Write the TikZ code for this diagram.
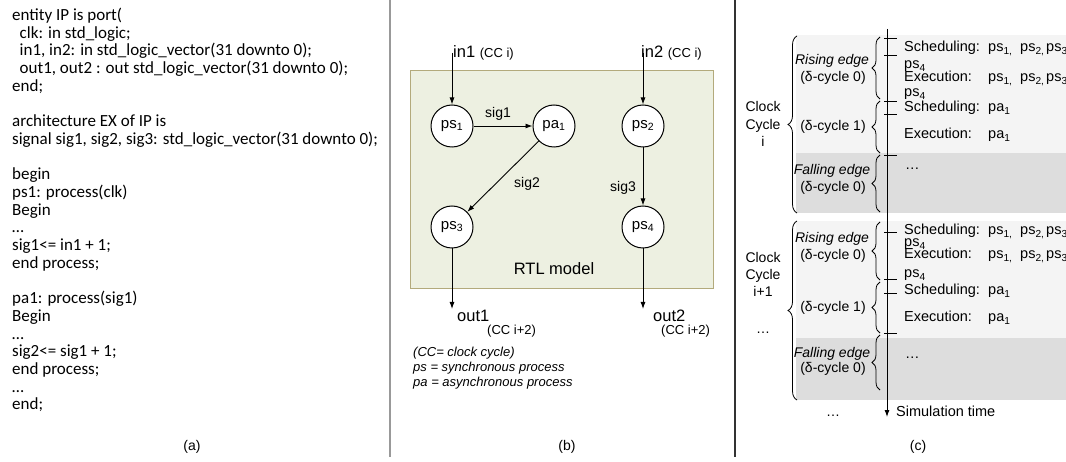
\documentclass[tikz,border=0pt]{standalone}
\usepackage{fontspec}
\setmainfont{Liberation Sans}
\newfontfamily\calfont{Carlito}
\usetikzlibrary{arrows.meta,decorations.pathreplacing}
\definecolor{boxfill}{HTML}{EDF0E1}
\definecolor{boxline}{HTML}{B3AA7C}
\definecolor{bandlight}{HTML}{F4F4F4}
\definecolor{banddark}{HTML}{DDDDDD}
\definecolor{sepgray}{HTML}{999999}
\newcommand{\fsz}[1]{\fontsize{#1}{#1}\selectfont}
\tikzset{
  code/.style={anchor=base west, inner sep=0pt, font=\calfont\fsz{17}},
  proc/.style={draw, circle, minimum size=42pt, inner sep=0pt, fill=white, line width=1pt, font=\fsz{15}},
  arr/.style={-{Latex[length=7pt,width=5pt]}, line width=0.9pt},
  txt/.style={inner sep=0pt, font=\fsz{14}},
  io/.style={anchor=base west, inner sep=0pt, font=\fsz{16.5}},
  cc/.style={anchor=base west, inner sep=0pt, font=\fsz{13}},
  leg/.style={anchor=base west, inner sep=0pt, font=\fsz{13}\itshape},
  ctr/.style={anchor=base, inner sep=0pt, font=\fsz{14}},
  ctri/.style={anchor=base, inner sep=0pt, font=\fsz{14}\itshape},
  rc/.style={anchor=base west, inner sep=0pt, font=\fsz{14.5}},
  bigbrace/.style={decorate, decoration={brace, amplitude=9pt}, line width=0.8pt},
  smallbrace/.style={decorate, decoration={brace, amplitude=8pt}, line width=0.8pt},
  tick/.style={line width=0.9pt},
}
\begin{document}
\begin{tikzpicture}[x=1pt, y=-1pt]
\useasboundingbox (0,0) rectangle (1066,462);

% separators
\draw[sepgray, line width=1.3pt] (390,0) -- (390,457);
\draw[black!80, line width=1.3pt] (735,0) -- (735,457);

% ---------------- panel (a)
\node[code] (c1)  at (12,20.5)   {entity IP is port(};
\node[code] (c2)  at (19.5,38.2) {clk: in std\_logic;};
\node[code] (c3)  at (19.5,55.9) {in1, in2: in std\_logic\_vector(31 downto 0);};
\node[code] (c4)  at (19.5,73.6) {out1, out2 : out std\_logic\_vector(31 downto 0);};
\node[code] (c5)  at (12,91.3)   {end;};
\node[code] (c6)  at (12,126.7)  {architecture EX of IP is};
\node[code] (c7)  at (12,144.4)  {signal sig1, sig2, sig3: std\_logic\_vector(31 downto 0);};
\node[code] (c8)  at (12,179.8)  {begin};
\node[code] (c9)  at (12,197.5)  {ps1: process(clk)};
\node[code] (c10) at (12,215.2)  {Begin};
\node[code] (c11) at (12,232.9)  {…};
\node[code] (c12) at (12,250.6)  {sig1<= in1 + 1;};
\node[code] (c13) at (12,268.3)  {end process;};
\node[code] (c14) at (12,303.7)  {pa1: process(sig1)};
\node[code] (c15) at (12,321.4)  {Begin};
\node[code] (c16) at (12,339.1)  {…};
\node[code] (c17) at (12,356.8)  {sig2<= sig1 + 1;};
\node[code] (c18) at (12,374.5)  {end process;};
\node[code] (c19) at (12,392.2)  {…};
\node[code] (c20) at (12,409.9)  {end;};
\node[ctr] (la) at (192,450) {(a)};

% ---------------- panel (b)
\node[draw=boxline, fill=boxfill, line width=1.2pt, minimum width=303pt, minimum height=218pt,
      anchor=north west, inner sep=0pt] (rtlbox) at (410,70) {};
\node[txt, font=\fsz{16.5}] (rtl) at (554,269) {RTL model};

\node[proc] (ps1) at (452,126) {ps\textsubscript{1}};
\node[proc] (pa1) at (554,126) {pa\textsubscript{1}};
\node[proc] (ps2) at (643,126) {ps\textsubscript{2}};
\node[proc] (ps3) at (452,227) {ps\textsubscript{3}};
\node[proc] (ps4) at (643,227) {ps\textsubscript{4}};

\coordinate (in1s) at (452,53);
\coordinate (in2s) at (643,53);
\coordinate (out1e) at (452,309);
\coordinate (out2e) at (643,309);

\draw[arr] (in1s) -- (ps1);
\draw[arr] (in2s) -- (ps2);
\draw[arr] (ps1) -- (pa1);
\draw[arr] (pa1) -- (ps3);
\draw[arr] (ps2) -- (ps4);
\draw[arr] (ps3) -- (out1e);
\draw[arr] (ps4) -- (out2e);

\node[io] (in1l) at (453,58) {in1 {\fsz{13}(CC i)}};
\node[io] (in2l) at (641,58) {in2 {\fsz{13}(CC i)}};
\node[txt] (sig1l) at (498,114) {sig1};
\node[txt] (sig2l) at (527,184) {sig2};
\node[txt] (sig3l) at (623,188) {sig3};
\node[io] (out1l) at (457,322) {out1};
\node[cc] (out1c) at (487,335) {(CC i+2)};
\node[io] (out2l) at (653,322) {out2};
\node[cc] (out2c) at (661,335) {(CC i+2)};
\node[leg] (leg1) at (413,356) {(CC= clock cycle)};
\node[leg] (leg2) at (413,371.5) {ps = synchronous process};
\node[leg] (leg3) at (413,387) {pa = asynchronous process};
\node[ctr] (lb) at (567,450) {(b)};

% ---------------- panel (c)
\fill[bandlight] (796,35) rectangle (1066,153);
\fill[banddark]  (796,153) rectangle (1066,213);
\fill[bandlight] (796,221) rectangle (1066,338);
\fill[banddark]  (796,338) rectangle (1066,400);

\coordinate (t0) at (887,29);
\coordinate (t1) at (887,417);
\draw[arr] (t0) -- (t1);
\foreach \yy in {38,55,101,114,155,232,279,293,333}
  \draw[tick] (884,\yy) -- (897,\yy);

\draw[bigbrace] (797,213) -- (797,36);
\draw[bigbrace] (797,400) -- (797,221);
\draw[smallbrace] (880,99) -- (880,37);
\draw[smallbrace] (880,153) -- (880,101);
\draw[smallbrace] (880,212) -- (880,155);
\draw[smallbrace] (880,280) -- (880,222);
\draw[smallbrace] (880,333) -- (880,282);
\draw[smallbrace] (880,390) -- (880,335);

% clock cycle labels
\node[ctr] (ck1a) at (763,112) {Clock};
\node[ctr] (ck1b) at (763,130) {Cycle};
\node[ctr] (ck1c) at (763,147) {i};
\node[ctr] (ck2a) at (763,263) {Clock};
\node[ctr] (ck2b) at (763,280) {Cycle};
\node[ctr] (ck2c) at (763,297) {i+1};
\node[ctr] (ck2d) at (763,334) {…};

% phase labels
\node[ctri] (r1) at (832,65) {Rising edge};
\node[ctr] (r1d) at (833,82) {(δ-cycle 0)};
\node[ctr] (d1) at (833,131) {(δ-cycle 1)};
\node[ctri] (f1) at (832,175) {Falling edge};
\node[ctr] (f1d) at (833,192) {(δ-cycle 0)};
\node[ctri] (r2) at (832,243) {Rising edge};
\node[ctr] (r2d) at (833,260) {(δ-cycle 0)};
\node[ctr] (d2) at (833,312) {(δ-cycle 1)};
\node[ctri] (f2) at (832,358) {Falling edge};
\node[ctr] (f2d) at (833,373) {(δ-cycle 0)};

% right column, cycle i
\node[rc] (s1) at (904,52) {Scheduling:};
\node[rc] (s1a) at (988,52) {ps\textsubscript{1,}};
\node[rc] (s1b) at (1020,52) {ps\textsubscript{2,}};
\node[rc] (s1c) at (1046,52) {ps\textsubscript{3}};
\node[rc] (s1d) at (904,69) {ps\textsubscript{4}};
\node[rc] (e1) at (904,82) {Execution:};
\node[rc] (e1a) at (988,82) {ps\textsubscript{1,}};
\node[rc] (e1b) at (1020,82) {ps\textsubscript{2,}};
\node[rc] (e1c) at (1046,82) {ps\textsubscript{3}};
\node[rc] (e1d) at (904,97) {ps\textsubscript{4}};
\node[rc] (s2) at (904,112) {Scheduling:};
\node[rc] (s2a) at (988,112) {pa\textsubscript{1}};
\node[rc] (e2) at (904,139) {Execution:};
\node[rc] (e2a) at (988,139) {pa\textsubscript{1}};
\node[rc] (dots1) at (905,170) {…};

% right column, cycle i+1
\node[rc] (s3) at (904,235) {Scheduling:};
\node[rc] (s3a) at (988,235) {ps\textsubscript{1,}};
\node[rc] (s3b) at (1020,235) {ps\textsubscript{2,}};
\node[rc] (s3c) at (1046,235) {ps\textsubscript{3}};
\node[rc] (s3d) at (904,247) {ps\textsubscript{4}};
\node[rc] (e3) at (904,259) {Execution:};
\node[rc] (e3a) at (988,259) {ps\textsubscript{1,}};
\node[rc] (e3b) at (1020,259) {ps\textsubscript{2,}};
\node[rc] (e3c) at (1046,259) {ps\textsubscript{3}};
\node[rc] (e3d) at (904,278) {ps\textsubscript{4}};
\node[rc] (s4) at (904,295) {Scheduling:};
\node[rc] (s4a) at (988,295) {pa\textsubscript{1}};
\node[rc] (e4) at (904,322) {Execution:};
\node[rc] (e4a) at (988,322) {pa\textsubscript{1}};
\node[rc] (dots2) at (905,359) {…};

\node[ctr] (dots3) at (833,417) {…};
\node[rc] (simt) at (896,417) {Simulation time};
\node[ctr] (lc) at (918,450) {(c)};
\end{tikzpicture}
\end{document}
